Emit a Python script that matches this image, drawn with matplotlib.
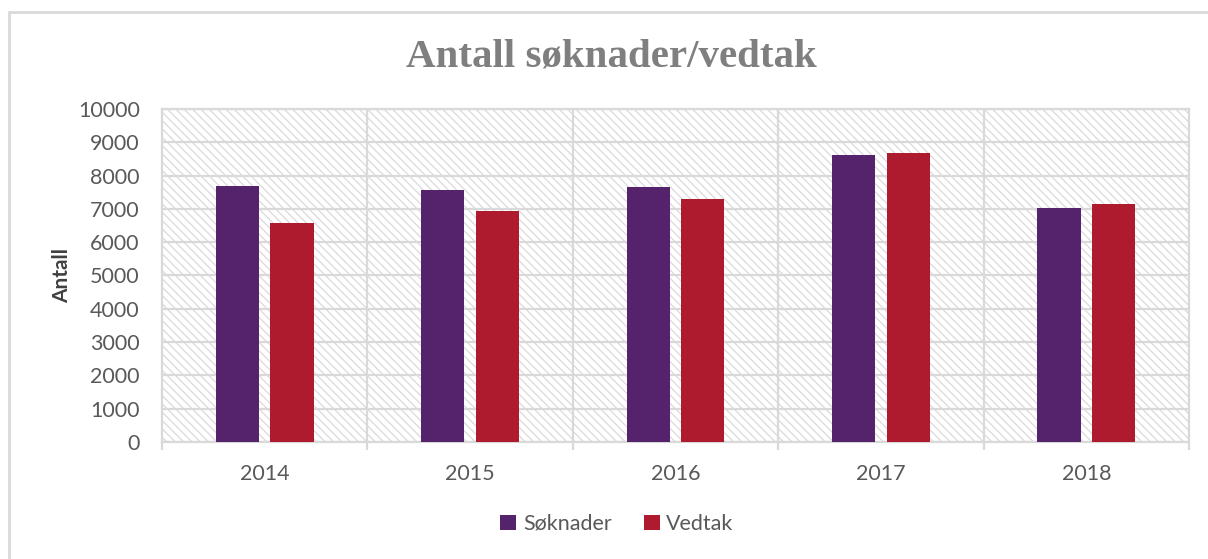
import numpy as np
import matplotlib
matplotlib.use("Agg")
import matplotlib.pyplot as plt
from matplotlib.patches import Rectangle

# Antall søknader og vedtak per år
years = ["2014", "2015", "2016", "2017", "2018"]
soknader = [7700, 7570, 7650, 8620, 7020]
vedtak = [6590, 6940, 7300, 8690, 7160]

purple = "#55236b"
red = "#ae1a2e"
grid_col = "#d9d9d9"
text_col = "#595959"

plt.rcParams["font.family"] = ["Lato", "DejaVu Sans"]
plt.rcParams["hatch.linewidth"] = 0.9

fig = plt.figure(figsize=(12.08, 5.59), dpi=100)

# outer chart border (cropped at right and bottom)
fig.patches.append(Rectangle((9 / 1208, -0.1), 1.2, (559 - 12) / 559 + 0.1,
                             transform=fig.transFigure, facecolor="none",
                             edgecolor=grid_col, linewidth=2))

ax = fig.add_axes([162 / 1208, (559 - 442) / 559, (1189 - 162) / 1208, (442 - 109) / 559])

# hatched plot area
ax.add_patch(Rectangle((0, 0), 1, 1, transform=ax.transAxes, facecolor="white",
                       edgecolor="#dadada", linewidth=0, hatch="\\" * 4, zorder=0))

x = np.arange(len(years))
w = 0.21
ax.bar(x - 0.133, soknader, w, color=purple, zorder=3, label="Søknader")
ax.bar(x + 0.133, vedtak, w, color=red, zorder=3, label="Vedtak")

ax.set_xlim(-0.5, 4.5)
ax.set_ylim(0, 10000)
ax.set_yticks(np.arange(0, 10001, 1000))
ax.set_xticks(x)
ax.set_xticklabels(years)
ax.set_xticks(np.arange(-0.5, 5, 1), minor=True)

ax.yaxis.grid(True, color=grid_col, linewidth=1.6, zorder=1)
for b in np.arange(0.5, 4.5, 1):
    ax.axvline(b, color=grid_col, linewidth=1.6, zorder=1)
ax.set_axisbelow(True)

for s in ax.spines.values():
    s.set_color(grid_col)
    s.set_linewidth(1.6)

ax.tick_params(axis="y", length=0, labelsize=15.5, labelcolor=text_col, pad=16)
ax.tick_params(axis="x", which="major", length=0, labelsize=15.5, labelcolor=text_col, pad=16)
ax.tick_params(axis="x", which="minor", length=6, width=1.6, color=grid_col)

ax.set_ylabel("Antall", fontsize=15, fontweight="bold", color="#404040", labelpad=4)

fig.text(0.506, 0.898, "Antall søknader/vedtak", ha="center", va="center",
         fontsize=29.5, fontweight="bold", color="#7f7f7f", family="Liberation Serif")

ax.legend(loc="center", bbox_to_anchor=(617 / 1208, 1 - 524 / 559),
          bbox_transform=fig.transFigure, ncol=2, frameon=False,
          fontsize=15.5, labelcolor=text_col, handlelength=0.75, handleheight=0.75,
          handletextpad=0.3, columnspacing=1.5)

fig.savefig("out.png", dpi=100)
